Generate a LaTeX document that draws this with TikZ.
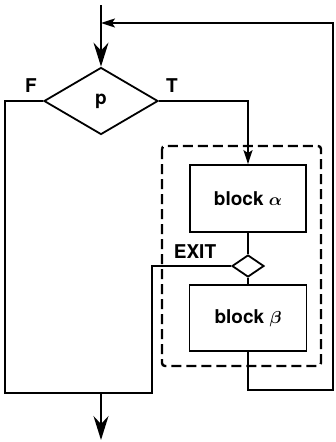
\documentclass[tikz,border=0pt]{standalone}
\usepackage{fontspec}
\setmainfont{TeX Gyre Heros}
\usetikzlibrary{arrows.meta,shapes.geometric}
\begin{document}
\begin{tikzpicture}[x=1pt,y=-1pt,
  line width=1.8pt,
  lbl/.style={font=\fontsize{19}{22}\selectfont\bfseries\boldmath, inner sep=0pt},
  blockbox/.style={draw, minimum width=116pt, minimum height=67pt, inner sep=0pt, font=\fontsize{19}{22}\selectfont\bfseries\boldmath},
  bigtip/.style={-{Stealth[length=24pt,width=15pt,inset=8pt]}},
  smalltip/.style={-{Stealth[length=14pt,width=9pt,inset=3pt]}},
]
\useasboundingbox (0,0) rectangle (335,442);

% decision p
\node[draw, diamond, aspect=1.7, minimum width=114pt, minimum height=67pt, inner sep=0pt, lbl] (p) at (101,101) {p};

% loop body
\node[blockbox] (ba) at (248,198.5) {block $\alpha$};
\node[draw, diamond, aspect=1.45, minimum width=32pt, minimum height=22pt, inner sep=0pt] (ex) at (248,266) {};
\node[blockbox, minimum width=117pt, minimum height=66pt] (bb) at (248,318) {block $\beta$};

% dashed frame around the loop body
\draw[dashed, dash pattern=on 10pt off 5pt, line width=2.4pt, rounded corners=3pt] (162,146) rectangle (321,366);

% labels
\node[lbl] at (31,86) {F};
\node[lbl] at (172,86) {T};
\node[lbl] at (195,252) {EXIT};

% helper coordinates
\coordinate (top) at (101,5);
\coordinate (fb) at (101,23);
\coordinate (out) at (101,440);

% entry
\draw[bigtip] (top) -- (p.north);
% T branch
\draw[smalltip] (p.east) -| (ba.north);
% F branch and exit join
\draw (p.west) -| (5,393) -| (152,266) -- (ex.west);
\draw[bigtip] (101,393) -- (out);
% body links
\draw (ba.south) -- (ex.north);
\draw (ex.south) -- (bb.north);
% feedback
\draw[smalltip] (bb.south) |- (333,390) -- (333,23) -- (fb);
\end{tikzpicture}
\end{document}
